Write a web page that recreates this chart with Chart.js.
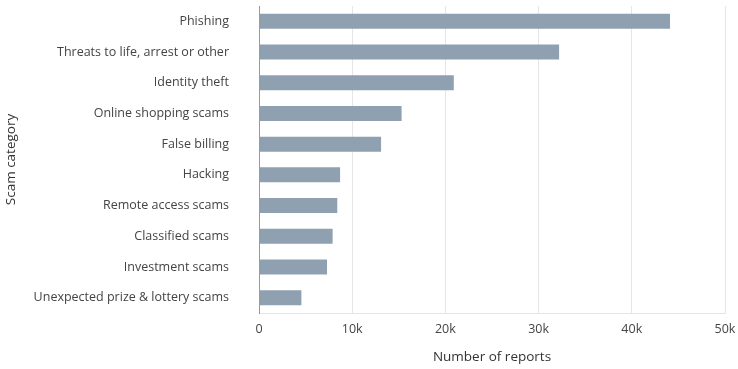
<!DOCTYPE html>
<html>
<head>
<meta charset="utf-8">
<script src="https://cdn.jsdelivr.net/npm/chart.js@4.4.1/dist/chart.umd.min.js"></script>
<style>
  html, body { margin: 0; padding: 0; background: #fff; }
  #boite { position: relative; width: 738px; height: 369px; }
</style>
</head>
<body>
<div id="boite"><canvas id="graphique"></canvas></div>
<script>
const categories = ["Phishing", "Threats to life, arrest or other", "Identity theft", "Online shopping scams", "False billing", "Hacking", "Remote access scams", "Classified scams", "Investment scams", "Unexpected prize & lottery scams"];
const rapports = [44100, 32200, 20900, 15300, 13100, 8700, 8400, 7900, 7300, 4550];
const ticksX = [0, 10000, 20000, 30000, 40000, 50000];

Chart.defaults.font.family = "'Open Sans', 'Noto Sans', sans-serif";
Chart.defaults.color = '#444';

new Chart(document.getElementById('graphique'), {
    type: 'bar',
    data: {
        labels: categories,
        datasets: [{
            data: rapports,
            backgroundColor: '#8fa0b0',
            categoryPercentage: 1,
            barPercentage: 0.49
        }]
    },
    options: {
        indexAxis: 'y',
        responsive: true, maintainAspectRatio: false, animation: false,
        layout: { padding: { top: 6, right: 13, left: 0, bottom: 0 } },
        plugins: { legend: { display: false }, tooltip: { enabled: false } },
        scales: {
            x: {
                min: 0, max: 50000,
                afterBuildTicks: function (s) { s.ticks = ticksX.map(function (v) { return { value: v }; }); },
                ticks: {
                    padding: 9,
                    font: { size: 12.5 },
                    color: '#444',
                    callback: function (v) { return v === 0 ? '0' : (v / 1000) + 'k'; }
                },
                grid: { color: '#e6e6e6', drawTicks: false },
                border: { color: '#e6e6e6' },
                title: { display: true, text: 'Number of reports', font: { size: 13.5 }, color: '#333', padding: { top: 2, bottom: 4 } },
                afterFit: function (s) { s.height = 56; s.paddingLeft = 0; s.paddingRight = 0; }
            },
            y: {
                ticks: { padding: 30, font: { size: 12.5 }, color: '#444' },
                grid: { display: false, drawTicks: false },
                border: { color: '#999' },
                title: { display: true, text: 'Scam category', font: { size: 13.5 }, color: '#333', padding: { top: 3, bottom: 0 } },
                afterFit: function (s) { s.width = 259; s.paddingTop = 0; s.paddingBottom = 0; }
            }
        }
    }
});
</script>
</body>
</html>
